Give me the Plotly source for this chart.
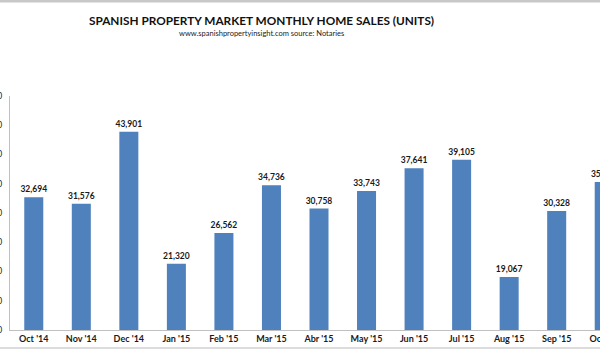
import plotly.graph_objects as go

months = ["Oct '14", "Nov '14", "Dec '14", "Jan '15", "Feb '15", "Mar '15", "Abr '15",
          "May '15", "Jun '15", "Jul '15", "Aug '15", "Sep '15", "Oct '15"]
sales = [32694, 31576, 43901, 21320, 26562, 34736, 30758,
         33743, 37641, 39105, 19067, 30328, 35300]
y_ticks = [10000, 15000, 20000, 25000, 30000, 35000, 40000, 45000, 50000]

title_text = "SPANISH PROPERTY MARKET MONTHLY HOME SALES (UNITS)"
subtitle_text = "www.spanishpropertyinsight.com source: Notaries"

FONT = "Lato"
BAR = "#4F81BD"

fig = go.Figure(go.Bar(
    x=list(range(len(months))), y=sales,
    marker=dict(color=BAR, line=dict(width=0)),
    text=[f"{v:,}" for v in sales], textposition="outside",
    textfont=dict(family=FONT, size=8.5, color="#1a1a1a", weight="bold"),
    constraintext="none",
    cliponaxis=False, width=0.4,
))

W = 628
PH = 234  # plot height in px (t=96, b=20)
fig.update_layout(
    width=W, height=350,
    margin=dict(l=10, r=0, t=96, b=20, autoexpand=False),
    plot_bgcolor="white", paper_bgcolor="white",
    showlegend=False,
    font=dict(family=FONT, color="#1a1a1a"),
    annotations=[
        dict(text="<b>" + title_text + "</b>", xref="paper", yref="paper",
             x=251 / (W - 10), y=1 + (96 - 20) / PH, xanchor="center", yanchor="middle",
             showarrow=False, font=dict(family=FONT, size=11.8, color="#111111")),
        dict(text=subtitle_text, xref="paper", yref="paper",
             x=251 / (W - 10), y=1 + (96 - 33) / PH, xanchor="center", yanchor="middle",
             showarrow=False, font=dict(family=FONT, size=7.5, color="#222222")),
    ],
    shapes=[
        dict(type="line", xref="paper", yref="paper", x0=-0.02, x1=1.0,
             y0=1 + 95 / PH, y1=1 + 95 / PH, line=dict(color="#c8c8c8", width=3)),
        dict(type="line", xref="paper", yref="paper", x0=-0.02, x1=1.0,
             y0=-18 / PH, y1=-18 / PH, line=dict(color="#d0d0d0", width=1.5)),
    ],
)
fig.update_xaxes(
    tickmode="array", tickvals=list(range(len(months))), ticktext=months,
    range=[-0.5, len(months) - 0.5],
    showline=True, linecolor="#c0c0c0", linewidth=1,
    showgrid=False, zeroline=False, ticks="",
    tickfont=dict(family=FONT, size=9, color="#1a1a1a", weight="bold"),
    automargin=False,
)
fig.update_yaxes(
    range=[10000, 50000], tickvals=y_ticks, tickformat=",",
    showline=True, linecolor="#c0c0c0", linewidth=1,
    showgrid=False, zeroline=False, ticks="", ticklabelstandoff=5,
    tickfont=dict(family=FONT, size=8.5, color="#1a1a1a"),
    automargin=False,
)
fig.write_html("out.html")
